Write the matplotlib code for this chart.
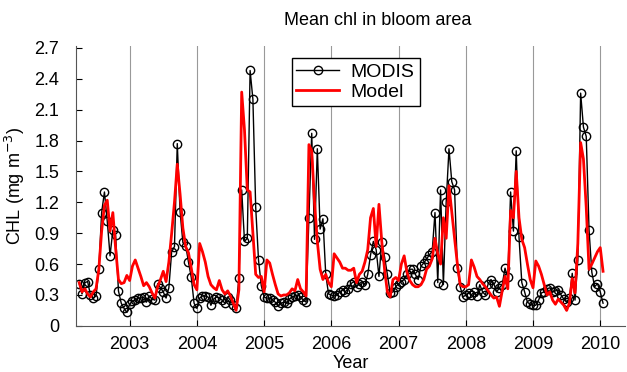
import numpy as np
import matplotlib
matplotlib.use("Agg")
import matplotlib.pyplot as plt

plt.rcParams["font.family"] = ["Liberation Sans", "DejaVu Sans"]

# half-monthly samples starting spring 2002
start_year = 2002.25
steps_per_year = 24

modis = [
    0.41, 0.31, 0.42, 0.43, 0.30, 0.27, 0.29, 0.55, 1.10, 1.30, 1.02, 0.68,
    0.93, 0.88, 0.34, 0.22, 0.17, 0.13,
    # 2003
    0.21, 0.24, 0.25, 0.27, 0.27, 0.28, 0.23, 0.29, 0.26, 0.25, 0.41, 0.37,
    0.33, 0.27, 0.37, 0.72, 0.77, 1.77, 1.11, 0.81, 0.78, 0.62, 0.47, 0.22,
    # 2004
    0.17, 0.27, 0.29, 0.29, 0.28, 0.20, 0.26, 0.28, 0.27, 0.25, 0.22, 0.28,
    0.25, 0.20, 0.17, 0.46, 1.32, 0.82, 0.85, 2.48, 2.20, 1.15, 0.64, 0.39,
    # 2005
    0.28, 0.27, 0.27, 0.25, 0.23, 0.19, 0.22, 0.23, 0.22, 0.26, 0.28, 0.29,
    0.30, 0.28, 0.25, 0.23, 1.05, 1.87, 0.84, 1.72, 0.94, 1.04, 0.50, 0.31,
    # 2006
    0.30, 0.29, 0.30, 0.33, 0.35, 0.33, 0.36, 0.41, 0.43, 0.38, 0.41, 0.43,
    0.40, 0.50, 0.69, 0.82, 0.74, 0.48, 0.81, 0.67, 0.50, 0.32, 0.33, 0.38,
    # 2007
    0.41, 0.43, 0.45, 0.50, 0.55, 0.55, 0.50, 0.45, 0.58, 0.61, 0.65, 0.69,
    0.72, 1.10, 0.42, 1.32, 0.40, 1.20, 1.72, 1.40, 1.32, 0.56, 0.38, 0.28,
    # 2008
    0.30, 0.32, 0.30, 0.33, 0.29, 0.40, 0.33, 0.30, 0.41, 0.45, 0.41, 0.33,
    0.37, 0.40, 0.56, 0.47, 1.30, 0.92, 1.70, 0.86, 0.42, 0.33, 0.23, 0.21,
    # 2009
    0.20, 0.20, 0.25, 0.32, 0.33, 0.36, 0.37, 0.33, 0.34, 0.35, 0.30, 0.26,
    0.23, 0.27, 0.51, 0.25, 0.64, 2.26, 1.93, 1.84, 0.93, 0.52, 0.38, 0.41,
    0.33, 0.22,
]

model = [
    0.42, 0.33, 0.36, 0.31, 0.28, 0.33, 0.36, 0.55, 0.92, 1.17, 1.22, 0.92,
    1.10, 0.75, 0.45, 0.41, 0.42, 0.49,
    # 2003
    0.44, 0.58, 0.64, 0.56, 0.48, 0.39, 0.42, 0.38, 0.32, 0.27, 0.38, 0.45,
    0.53, 0.43, 0.62, 0.90, 1.20, 1.57, 1.28, 0.95, 0.77, 0.71, 0.56, 0.40,
    # 2004
    0.35, 0.80, 0.72, 0.62, 0.48, 0.40, 0.37, 0.35, 0.44, 0.35, 0.31, 0.34,
    0.29, 0.22, 0.15, 0.35, 2.27, 1.90, 1.32, 1.30, 0.90, 0.50, 0.47, 0.48,
    # 2005
    0.33, 0.64, 0.61, 0.50, 0.40, 0.31, 0.29, 0.30, 0.30, 0.32, 0.36, 0.34,
    0.45, 0.36, 0.33, 0.29, 1.76, 1.70, 1.20, 0.82, 0.55, 0.45, 0.50, 0.42,
    # 2006
    0.38, 0.70, 0.66, 0.62, 0.56, 0.56, 0.54, 0.54, 0.56, 0.42, 0.50, 0.53,
    0.62, 0.74, 1.05, 1.14, 0.77, 1.18, 0.82, 0.55, 0.33, 0.28, 0.45, 0.47,
    # 2007
    0.44, 0.60, 0.68, 0.52, 0.44, 0.40, 0.38, 0.38, 0.40, 0.45, 0.55, 0.58,
    0.65, 0.85, 0.70, 0.60, 1.05, 0.85, 1.36, 1.10, 0.85, 0.60, 0.40, 0.38,
    # 2008
    0.38, 0.40, 0.64, 0.57, 0.48, 0.45, 0.41, 0.38, 0.34, 0.30, 0.27, 0.28,
    0.19, 0.34, 0.48, 0.36, 1.12, 1.05, 1.50, 1.05, 0.84, 0.76, 0.60, 0.45,
    # 2009
    0.37, 0.63, 0.58, 0.50, 0.40, 0.30, 0.33, 0.25, 0.21, 0.26, 0.23, 0.20,
    0.15, 0.22, 0.46, 0.32, 0.80, 1.78, 1.62, 1.15, 0.55, 0.60, 0.66, 0.72,
    0.76, 0.53,
]

years = [2003, 2004, 2005, 2006, 2007, 2008, 2009, 2010]
y_ticks = [0, 0.3, 0.6, 0.9, 1.2, 1.5, 1.8, 2.1, 2.4, 2.7]
y_labels = ["0", "0.3", "0.6", "0.9", "1.2", "1.5", "1.8", "2.1", "2.4", "2.7"]

t = start_year + np.arange(len(modis)) / steps_per_year

fig = plt.figure(figsize=(6.27, 3.72), dpi=100)
ax = fig.add_axes([0.121, 0.124, 0.876, 0.753])

for yr in years:
    ax.axvline(yr, color="#999999", linewidth=0.8, zorder=0)

ax.plot(t, modis, color="black", linewidth=1.0, marker="o",
        markersize=6, markerfacecolor="none", markeredgewidth=1.0,
        label="MODIS")
ax.plot(t, model, color="red", linewidth=2.0, label="Model")

ax.set_xlim(2002.2, 2010.37)
ax.set_ylim(0, 2.72)
ax.set_xticks(years)
ax.set_yticks(y_ticks)
ax.set_yticklabels(y_labels)
ax.tick_params(direction="in", labelsize=13, length=4)
ax.tick_params(axis="y", pad=12)
ax.tick_params(axis="x", pad=7)
ax.spines["top"].set_visible(False)
ax.spines["right"].set_visible(False)
ax.spines["left"].set_color("#555555")
ax.spines["bottom"].set_color("#555555")

fig.text(0.603, 0.945, "Mean chl in bloom area", fontsize=13,
         ha="center", va="center")
ax.set_xlabel("Year", fontsize=13, labelpad=2)
ax.set_ylabel("CHL (mg m$^{-3}$)", fontsize=13, labelpad=5)

leg = ax.legend(loc="upper left", bbox_to_anchor=(0.375, 0.99),
                fontsize=14, fancybox=False, framealpha=1,
                edgecolor="black", handlelength=2.2, borderpad=0.25,
                labelspacing=0.15, handletextpad=0.6)
leg.get_frame().set_linewidth(1.0)

fig.savefig("out.png", dpi=100)
